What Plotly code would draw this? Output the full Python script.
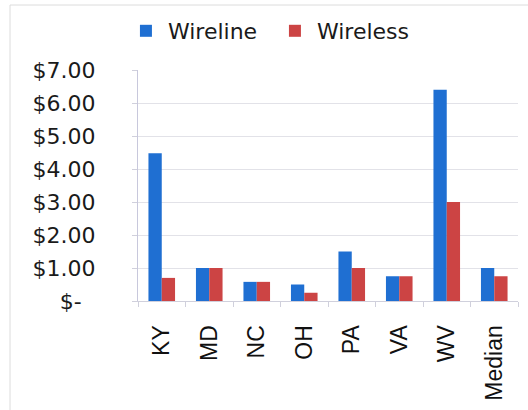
import plotly.graph_objects as go

# Monthly 911 surcharge by state, wireline vs. wireless
categories = ["KY", "MD", "NC", "OH", "PA", "VA", "WV", "Median"]
wireline = [4.48, 1.00, 0.58, 0.50, 1.50, 0.75, 6.40, 1.00]
wireless = [0.70, 1.00, 0.58, 0.25, 1.00, 0.75, 3.00, 0.75]

y_ticks = [0, 1, 2, 3, 4, 5, 6, 7]
y_ticktext = ["$-&nbsp;&nbsp;", "$1.00", "$2.00", "$3.00", "$4.00", "$5.00", "$6.00", "$7.00"]

BLUE = "#1F6FD2"
RED = "#CC4444"
LABEL_FONT = "DejaVu Sans"

fig = go.Figure()
fig.add_trace(go.Bar(name="Wireline", x=categories, y=wireline, marker_color=BLUE, marker_line_width=0))
fig.add_trace(go.Bar(name="Wireless", x=categories, y=wireless, marker_color=RED, marker_line_width=0))

fig.update_layout(
    width=528,
    height=410,
    margin=dict(l=138, r=10, t=70, b=109, autoexpand=False),
    paper_bgcolor="white",
    plot_bgcolor="white",
    barmode="group",
    bargap=0.44,
    bargroupgap=0,
    showlegend=True,
    legend=dict(
        orientation="h",
        x=-0.037,
        xanchor="left",
        y=1 + 39 / 231,
        yanchor="middle",
        font=dict(family=LABEL_FONT, size=22, color="#1a1a1a"),
        itemwidth=34,
        entrywidth=100,
        bgcolor="rgba(0,0,0,0)",
    ),
    xaxis=dict(
        type="category",
        tickangle=-90,
        tickfont=dict(family="Liberation Sans", size=23, color="#111111"),
        showgrid=False,
        showline=True,
        linecolor="#d0d0dc",
        linewidth=1,
        ticks="outside",
        ticklen=5,
        tickcolor="#d0d0dc",
        tickson="boundaries",
        ticklabelstandoff=14,
    ),
    yaxis=dict(
        range=[0, 7],
        tickvals=y_ticks,
        ticktext=y_ticktext,
        tickfont=dict(family=LABEL_FONT, size=22, color="#1a1a1a"),
        showgrid=True,
        gridcolor="#e2e2e8",
        gridwidth=1,
        showline=True,
        linecolor="#c8c8dc",
        linewidth=1,
        ticks="outside",
        ticklen=5,
        tickcolor="#d0d0dc",
        zeroline=False,
        ticklabelstandoff=32,
    ),
)

# light frame around the chart area
fig.add_shape(
    type="rect",
    xref="paper",
    yref="paper",
    x0=-128 / 380,
    x1=1.2,
    y0=-1.0,
    y1=1 + 65 / 231,
    line=dict(color="#dcdcdc", width=1),
    fillcolor="rgba(0,0,0,0)",
    layer="below",
)

fig.write_html("out.html")
